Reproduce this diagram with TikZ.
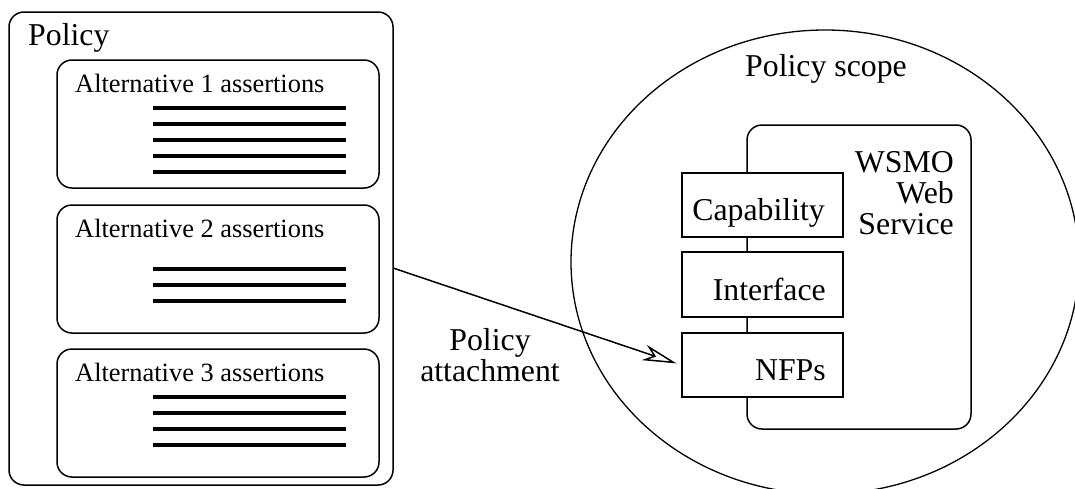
\documentclass[tikz,border=0pt]{standalone}
\usepackage{fontspec}
\setmainfont{Liberation Serif}
\usetikzlibrary{arrows.meta,shapes.geometric}
\tikzset{
  rbox/.style={draw, line width=1.5pt, rounded corners=15pt, minimum width=#1, inner sep=0pt},
  sbox/.style={draw, line width=1.5pt, fill=white, minimum width=161pt, inner sep=0pt},
  big/.style={font=\fontsize{31.8}{31}\selectfont, inner sep=0pt},
  small/.style={font=\fontsize{26.4}{30}\selectfont, inner sep=0pt},
  assertline/.style={line width=3.2pt},
  attacharrow/.style={line width=1.5pt, -{Stealth[open, length=34pt, width=16pt, inset=10pt, line width=1.5pt]}}
}
\begin{document}
\begin{tikzpicture}[x=1pt, y=-1pt]
\useasboundingbox (0,0) rectangle (1075,488);
\clip (0,0) rectangle (1075,488);
% Policy container
\node[rbox=384pt, minimum height=473pt] (policy) at (201,248.5) {};
\node[big, anchor=base west] (policylbl) at (28,45) {Policy};
% Alternatives
\node[rbox=322pt, minimum height=128pt] (alt1) at (218,124) {};
\node[rbox=322pt, minimum height=128pt] (alt2) at (218,269) {};
\node[rbox=322pt, minimum height=128pt] (alt3) at (218,413) {};
\node[small, anchor=base west] (alt1lbl) at (75,92) {Alternative 1 assertions};
\node[small, anchor=base west] (alt2lbl) at (75,237) {Alternative 2 assertions};
\node[small, anchor=base west] (alt3lbl) at (75,381) {Alternative 3 assertions};
\foreach \y in {108,124,140,156,172} \draw[assertline] (153,\y) -- (346,\y);
\foreach \y in {269,285,301} \draw[assertline] (153,\y) -- (346,\y);
\foreach \y in {397,413,429,445} \draw[assertline] (153,\y) -- (346,\y);
% Policy scope
\node[draw, ellipse, line width=1.3pt, minimum width=508pt, minimum height=464pt, inner sep=0pt] (scope) at (825,262) {};
\node[big, anchor=base] (scopelbl) at (826,76) {Policy scope};
% WSMO web service
\node[rbox=224pt, minimum height=304pt] (wsmo) at (859,277) {};
\node[big, align=right, anchor=north east] (wsmolbl) at (954,151.5) {WSMO\\Web\\Service};
\node[sbox, minimum height=64pt] (cap) at (762.5,205) {};
\node[sbox, minimum height=65pt] (iface) at (762.5,284.5) {};
\node[sbox, minimum height=64pt] (nfps) at (762.5,365) {};
\node[big, anchor=base east] (caplbl) at (825,220) {Capability};
\node[big, anchor=base east] (ifacelbl) at (826,300) {Interface};
\node[big, anchor=base east] (nfpslbl) at (826,380) {NFPs};
% Attachment arrow
\coordinate (arrstart) at (393,268);
\draw[attacharrow, shorten >=5pt] (arrstart) -- (nfps.west);
\node[big, align=center, anchor=north] (attachlbl) at (490,328.3) {Policy\\attachment};
\end{tikzpicture}
\end{document}
